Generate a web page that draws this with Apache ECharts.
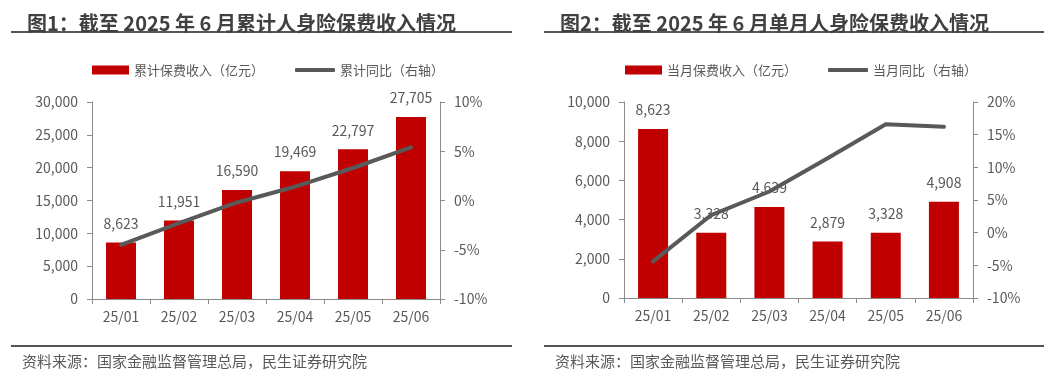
<!DOCTYPE html>
<html lang="zh">
<head>
  <meta charset="UTF-8">
  <title>人身险保费收入</title>
  <style>
    * { margin: 0; padding: 0; }
    body { width: 1054px; height: 375px; background: #fff; }
    #main { width: 1054px; height: 375px; }
  </style>
</head>
<body>
  <div id="main"></div>
  <script src="https://cdn.jsdelivr.net/npm/echarts@6/dist/echarts.min.js"></script>
  <script>
    // 数据
    var months = ['25/01', '25/02', '25/03', '25/04', '25/05', '25/06'];
    var cumPremium = [8623, 11951, 16590, 19469, 22797, 27705];   // 累计保费收入（亿元）
    var cumYoy = [-4.5, -2.3, -0.2, 1.4, 3.3, 5.4];               // 累计同比 %
    var monPremium = [8623, 3328, 4639, 2879, 3328, 4908];       // 当月保费收入（亿元）
    var monYoy = [-4.4, 2.7, 6.3, 11.4, 16.6, 16.2];             // 当月同比 %

    var FONT = '"Noto Sans CJK SC", "Noto Sans", sans-serif';
    var TXT = '#595959';
    var AXIS = '#8c8c8c';
    var RED = '#c00000';

    function fmt(v) {
      return String(v).replace(/\B(?=(\d{3})+(?!\d))/g, ',');
    }

    function xAxisOf(idx) {
      return {
        type: 'category', gridIndex: idx, data: months,
        axisLine: { lineStyle: { color: AXIS } },
        axisTick: { show: true, length: 5, lineStyle: { color: AXIS } },
        axisLabel: { color: TXT, fontSize: 14, fontFamily: FONT, margin: 11 }
      };
    }

    function yAxisOf(idx, pos, min, max, step, pct) {
      return {
        type: 'value', gridIndex: idx, position: pos,
        min: min, max: max, interval: step,
        axisLine: { show: true, lineStyle: { color: AXIS } },
        axisTick: { show: true, length: 5, lineStyle: { color: AXIS } },
        splitLine: { show: false },
        axisLabel: {
          color: TXT, fontSize: 14, fontFamily: FONT, margin: 14,
          formatter: pct ? '{value}%' : function (v) { return fmt(v); }
        }
      };
    }

    function legendOf(name, left, isLine) {
      return {
        data: [name], left: left, top: 58,
        itemWidth: isLine ? 40 : 37, itemHeight: isLine ? 4 : 9,
        icon: isLine ? 'roundRect' : 'rect',
        textStyle: { color: TXT, fontSize: 13, fontFamily: FONT, lineHeight: 14 },
        selectedMode: false
      };
    }

    function hLine(x1, x2, y) {
      return { type: 'line', shape: { x1: x1, y1: y, x2: x2, y2: y }, style: { stroke: '#555', lineWidth: 2 } };
    }

    function srcText(x) {
      return {
        type: 'text', left: x, top: 354,
        style: { text: '资料来源：国家金融监督管理总局，民生证券研究院', fill: TXT, font: '15px ' + FONT }
      };
    }

    var myChart = echarts.init(document.getElementById('main'));
    var option = {
      animation: false,
      title: [
        { text: '图1：截至 2025 年 6 月累计人身险保费收入情况', left: 22, top: 8,
          textStyle: { color: '#404040', fontSize: 20, fontWeight: 'bold', fontFamily: FONT } },
        { text: '图2：截至 2025 年 6 月单月人身险保费收入情况', left: 555, top: 8,
          textStyle: { color: '#404040', fontSize: 20, fontWeight: 'bold', fontFamily: FONT } }
      ],
      legend: [
        legendOf('累计保费收入（亿元）', 87, false),
        legendOf('累计同比（右轴）', 290, true),
        legendOf('当月保费收入（亿元）', 620, false),
        legendOf('当月同比（右轴）', 823, true)
      ],
      grid: [
        { left: 92, top: 102, width: 348, height: 197 },
        { left: 624, top: 102, width: 349, height: 196 }
      ],
      xAxis: [xAxisOf(0), xAxisOf(1)],
      yAxis: [
        yAxisOf(0, 'left', 0, 30000, 5000, false),
        yAxisOf(0, 'right', -10, 10, 5, true),
        yAxisOf(1, 'left', 0, 10000, 2000, false),
        yAxisOf(1, 'right', -10, 20, 5, true)
      ],
      series: [
        {
          name: '累计保费收入（亿元）', type: 'bar', xAxisIndex: 0, yAxisIndex: 0,
          data: cumPremium, barWidth: 30, itemStyle: { color: RED },
          label: { show: true, position: 'top', distance: 12, color: TXT, fontSize: 14, fontFamily: FONT,
            formatter: function (p) { return fmt(p.value); } }
        },
        {
          name: '累计同比（右轴）', type: 'line', xAxisIndex: 0, yAxisIndex: 1,
          data: cumYoy, symbol: 'none', itemStyle: { color: '#595959' },
          lineStyle: { color: '#595959', width: 4, cap: 'round' }
        },
        {
          name: '当月保费收入（亿元）', type: 'bar', xAxisIndex: 1, yAxisIndex: 2,
          data: monPremium, barWidth: 30, itemStyle: { color: RED },
          label: { show: true, position: 'top', distance: 12, color: TXT, fontSize: 14, fontFamily: FONT,
            formatter: function (p) { return fmt(p.value); } }
        },
        {
          name: '当月同比（右轴）', type: 'line', xAxisIndex: 1, yAxisIndex: 3,
          data: monYoy, symbol: 'none', itemStyle: { color: '#595959' },
          lineStyle: { color: '#595959', width: 4, cap: 'round' }
        }
      ],
      graphic: [
        hLine(11, 512, 32), hLine(544, 1044, 32),
        hLine(11, 512, 346), hLine(544, 1044, 346),
        srcText(22), srcText(555)
      ]
    };
    myChart.setOption(option);
  </script>
</body>
</html>
